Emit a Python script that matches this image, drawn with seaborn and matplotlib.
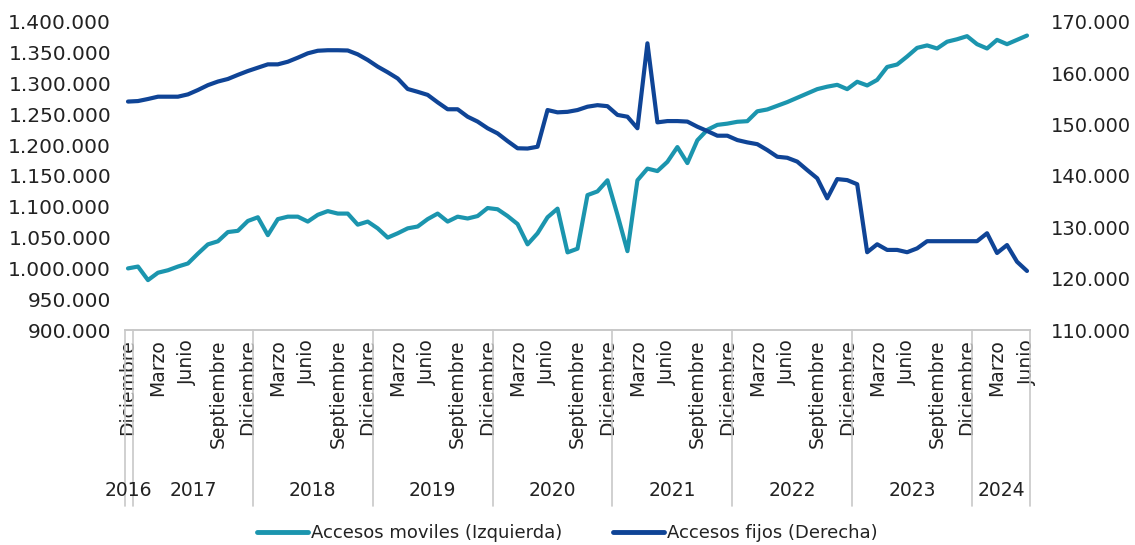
import matplotlib.pyplot as plt
import matplotlib.transforms as mtransforms
from matplotlib.lines import Line2D
from matplotlib.ticker import FuncFormatter
import pandas as pd
import seaborn as sns

# Monthly series, Dic-2016 .. Jun-2024 (91 months)
moviles = [
    1000000, 1003000, 981000, 993000, 997000, 1003000, 1008000, 1024000, 1039000, 1044000,
    1059000, 1061000, 1077000, 1083000, 1054000, 1080000, 1084000, 1084000, 1076000, 1087000,
    1093000, 1089000, 1089000, 1071000, 1076000, 1065000, 1050000, 1057000, 1065000, 1068000,
    1080000, 1089000, 1076000, 1084000, 1081000, 1085000, 1098000, 1096000, 1085000, 1072000,
    1039000, 1057000, 1083000, 1097000, 1026000, 1032000, 1119000, 1125000, 1143000, 1087000,
    1028000, 1143000, 1162000, 1158000, 1173000, 1197000, 1171000, 1208000, 1225000, 1233000,
    1235000, 1238000, 1239000, 1255000, 1258000, 1264000, 1270000, 1277000, 1284000, 1291000,
    1295000, 1298000, 1291000, 1303000, 1297000, 1306000, 1327000, 1331000, 1344000, 1358000,
    1362000, 1357000, 1368000, 1372000, 1377000, 1364000, 1357000, 1371000, 1364000, 1371000,
    1378000,
]
fijos = [
    154500, 154600, 155000, 155450, 155450, 155450, 155900, 156750, 157700, 158400,
    158900, 159700, 160450, 161100, 161750, 161750, 162260, 163050, 163900, 164400,
    164500, 164500, 164450, 163700, 162600, 161300, 160200, 159000, 156950, 156400,
    155800, 154350, 153000, 153000, 151550, 150600, 149300, 148300, 146800, 145400,
    145350, 145700, 152850, 152400, 152500, 152850, 153500, 153800, 153600, 151900,
    151550, 149300, 165850, 150450, 150700, 150700, 150600, 149600, 148750, 147850,
    147850, 147000, 146550, 146200, 145050, 143750, 143550, 142800, 141150, 139550,
    135650, 139400, 139200, 138400, 125150, 126700, 125600, 125600, 125150, 125900,
    127300, 127300, 127300, 127300, 127300, 127300, 128850, 125000, 126550, 123300,
    121500,
]
quarter_months = ['Diciembre', 'Marzo', 'Junio', 'Septiembre']
years = ['2016', '2017', '2018', '2019', '2020', '2021', '2022', '2023', '2024']
year_centers = [0, 6.5, 18.5, 30.5, 42.5, 54.5, 66.5, 78.5, 87.4]
year_breaks = [-0.3, 0.5, 12.5, 24.5, 36.5, 48.5, 60.5, 72.5, 84.5, 90.3]

TEAL = '#1b95ae'
NAVY = '#0f4496'
GRID = '#c8c8c8'

df = pd.DataFrame({'mes': range(len(moviles)), 'moviles': moviles, 'fijos': fijos})

sns.set_theme(style='white')
plt.rcParams['font.family'] = ['DejaVu Sans']

fig = plt.figure(figsize=(11.35, 5.45), dpi=100)
ax = fig.add_axes([125 / 1135, 215 / 545, 905 / 1135, 308 / 545])
ax2 = ax.twinx()

sns.lineplot(data=df, x='mes', y='moviles', ax=ax, color=TEAL, linewidth=3, legend=False)
sns.lineplot(data=df, x='mes', y='fijos', ax=ax2, color=NAVY, linewidth=3, legend=False)

dots = FuncFormatter(lambda v, _: f'{v:,.0f}'.replace(',', '.'))
ax.set_ylim(900000, 1400000)
ax.set_yticks(range(900000, 1400001, 50000))
ax.yaxis.set_major_formatter(dots)
ax2.set_ylim(110000, 170000)
ax2.set_yticks(range(110000, 170001, 10000))
ax2.yaxis.set_major_formatter(dots)

ax.set_xlim(-0.3, 90.3)
ticks = list(range(0, len(moviles), 3))
ax.set_xticks(ticks)
ax.set_xticklabels([quarter_months[(t // 3) % 4] for t in ticks], rotation=90, fontsize=13.5, color='#222222')
ax.tick_params(axis='x', length=0, pad=7)
ax.tick_params(axis='y', length=0, pad=10, labelsize=14.5, labelcolor='#222222')
ax2.tick_params(axis='y', length=0, pad=15, labelsize=14, labelcolor='#222222')
ax.set_xlabel('')
ax.set_ylabel('')
ax2.set_ylabel('')

for a in (ax, ax2):
    for side in ('top', 'left', 'right'):
        a.spines[side].set_visible(False)
    a.spines['bottom'].set_color(GRID)
    a.spines['bottom'].set_linewidth(1.2)
    a.grid(False)

trans = mtransforms.blended_transform_factory(ax.transData, ax.transAxes)
for xb in year_breaks:
    ax.plot([xb, xb], [0, -0.57], transform=trans, color=GRID, linewidth=1.2, clip_on=False)
for xc, yr in zip(year_centers, years):
    ax.text(xc, -0.52, yr, transform=trans, ha='center', va='center', fontsize=13.5, color='#222222')

handles = [Line2D([], [], color=TEAL, linewidth=3.5), Line2D([], [], color=NAVY, linewidth=3.5)]
fig.legend(handles, ['Accesos moviles (Izquierda)', 'Accesos fijos (Derecha)'],
           loc='center', bbox_to_anchor=(0.5, 12 / 545), ncol=2, frameon=False, fontsize=13,
           handlelength=2.8, handletextpad=0.2, columnspacing=2.8, labelcolor='#222222')

fig.savefig('out.png', dpi=100)
